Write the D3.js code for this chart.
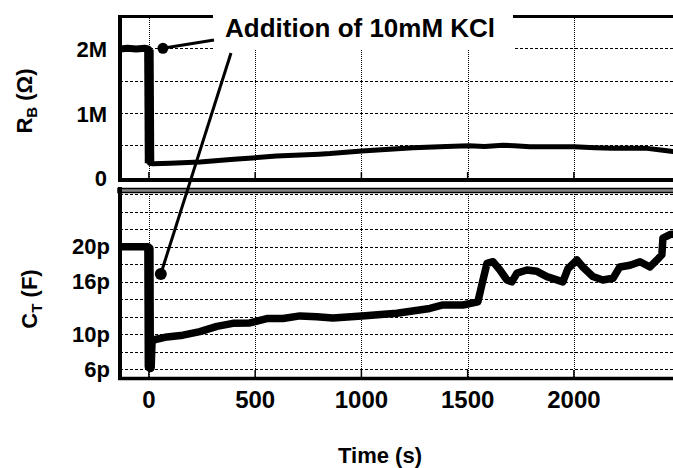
<!DOCTYPE html>
<html>
<head>
<meta charset="utf-8">
<script src="https://cdn.jsdelivr.net/npm/d3@7"></script>
<style>
  body { margin: 0; background: #fff; }
  svg { display: block; font-family: "Liberation Sans", Arial, sans-serif; font-weight: bold; }
</style>
</head>
<body>
<div id="chart"></div>
<script>
// Ticks and grid values
const timeTicks = [0, 500, 1000, 1500, 2000, 2500];
const rbTicks = [0, 1e6, 2e6];
const rbTickLabels = ["0", "1M", "2M"];
const rbGrid = [0.5e6, 1e6, 1.5e6, 2e6];
const ctTicks = [6, 10, 16, 20];
const ctTickLabels = ["6p", "10p", "16p", "20p"];
const ctGrid = [6, 8, 10, 12, 14, 16, 18, 20, 22, 24, 26];

// R_B series (time in s, resistance in ohm)
const rbTime = [-136, -100, -60, -20, -4, 0, 3, 20, 100, 240, 400, 600, 800, 852, 1002, 1243, 1400, 1506, 1580, 1666, 1720, 1793, 1900, 2000, 2100, 2184, 2344, 2419, 2466, 2520];
const rbValues = [1.99e6, 2.0e6, 1.99e6, 2.0e6, 1.99e6, 1.98e6, 0.22e6, 0.21e6, 0.22e6, 0.24e6, 0.28e6, 0.33e6, 0.36e6, 0.37e6, 0.41e6, 0.46e6, 0.48e6, 0.49e6, 0.48e6, 0.50e6, 0.49e6, 0.475e6, 0.475e6, 0.475e6, 0.46e6, 0.45e6, 0.45e6, 0.42e6, 0.40e6, 0.40e6];

// C_T series (time in s, capacitance in pF)
const ctTime = [-136, -60, -4, 0, 2, 6, 10, 30, 85, 160, 240, 320, 395, 475, 555, 631, 711, 790, 866, 1002, 1167, 1322, 1384, 1478, 1548, 1572, 1591, 1619, 1652, 1685, 1708, 1732, 1779, 1826, 1873, 1948, 1972, 2014, 2042, 2089, 2136, 2184, 2216, 2264, 2311, 2358, 2391, 2414, 2419, 2452, 2520];
const ctValues = [20.0, 20.0, 20.0, 19.8, 6.3, 6.2, 9.2, 9.4, 9.7, 9.9, 10.3, 10.9, 11.25, 11.3, 11.8, 11.8, 12.1, 12.0, 11.85, 12.1, 12.4, 12.95, 13.35, 13.35, 13.7, 16.2, 18.1, 18.3, 17.35, 16.2, 16.0, 17.0, 17.35, 17.2, 16.6, 16.0, 17.5, 18.5, 17.7, 16.6, 16.2, 16.4, 17.7, 17.9, 18.3, 17.7, 18.5, 19.1, 21.0, 21.4, 21.6];

// Annotation
const annotationText = "Addition of 10mM KCl";
const calloutTime = [66, 56];
const calloutRb = 2.0e6;
const calloutCt = 16.9;

const width = 673;
const height = 468;

const svg = d3.select("#chart").append("svg")
    .attr("width", width)
    .attr("height", height);

// Scales
const xLeft = 120;
const xScale = d3.scaleLinear().domain([-136, 2600]).range([xLeft, xLeft + 2736 * 0.2125]);
const xRight = xScale.range()[1];
const rbScale = d3.scaleLinear().domain([-0.04e6, 2.5e6]).range([180, 16]);
const ctScale = d3.scaleLinear().domain([5, 26.5]).range([378, 190]);

const rbData = rbTime.map((t, i) => ({ t, v: rbValues[i] }));
const ctData = ctTime.map((t, i) => ({ t, v: ctValues[i] }));

// Clip paths for each panel
const defs = svg.append("defs");
defs.append("clipPath").attr("id", "clipTop").append("rect")
    .attr("x", xLeft).attr("y", 16).attr("width", xRight - xLeft).attr("height", 164);
defs.append("clipPath").attr("id", "clipBottom").append("rect")
    .attr("x", xLeft).attr("y", 190).attr("width", xRight - xLeft).attr("height", 188);

// Grid lines
const grid = svg.append("g")
    .attr("stroke", "#000")
    .attr("stroke-width", 1)
    .attr("shape-rendering", "crispEdges");

grid.selectAll("line.rb-grid")
    .data(rbGrid)
    .join("line")
    .attr("class", "rb-grid")
    .attr("x1", xLeft).attr("x2", xRight)
    .attr("y1", d => Math.round(rbScale(d)) + 0.5).attr("y2", d => Math.round(rbScale(d)) + 0.5)
    .attr("stroke-dasharray", "3,2");

grid.selectAll("line.ct-grid")
    .data(ctGrid)
    .join("line")
    .attr("class", "ct-grid")
    .attr("x1", xLeft).attr("x2", xRight)
    .attr("y1", d => Math.round(ctScale(d)) + 0.5).attr("y2", d => Math.round(ctScale(d)) + 0.5)
    .attr("stroke-dasharray", "3,2");

grid.selectAll("line.vgrid-top")
    .data(timeTicks)
    .join("line")
    .attr("class", "vgrid-top")
    .attr("x1", d => Math.round(xScale(d)) + 0.5).attr("x2", d => Math.round(xScale(d)) + 0.5)
    .attr("y1", 16).attr("y2", 180)
    .attr("stroke-dasharray", "1,1");

grid.selectAll("line.vgrid-bottom")
    .data(timeTicks)
    .join("line")
    .attr("class", "vgrid-bottom")
    .attr("x1", d => Math.round(xScale(d)) + 0.5).attr("x2", d => Math.round(xScale(d)) + 0.5)
    .attr("y1", 190).attr("y2", 378)
    .attr("stroke-dasharray", "1,1");

// Frames
const frame = svg.append("g").attr("stroke", "#000");
frame.append("line").attr("x1", xLeft - 2).attr("x2", xRight).attr("y1", 16.5).attr("y2", 16.5).attr("stroke-width", 3);
frame.append("line").attr("x1", xLeft - 2).attr("x2", xRight).attr("y1", 180).attr("y2", 180).attr("stroke-width", 4);
frame.append("line").attr("x1", xLeft).attr("x2", xLeft).attr("y1", 15).attr("y2", 182).attr("stroke-width", 4);
frame.append("rect").attr("x", xLeft - 2).attr("y", 188.5).attr("width", xRight - xLeft + 2).attr("height", 4)
    .attr("fill", "#888").attr("stroke-width", 1.5);
frame.append("line").attr("x1", xLeft).attr("x2", xLeft).attr("y1", 187).attr("y2", 380).attr("stroke-width", 4);
frame.append("line").attr("x1", xLeft - 2).attr("x2", xRight).attr("y1", 378.5).attr("y2", 378.5).attr("stroke-width", 3.5);

// Small inward ticks on the bottom of each panel
frame.selectAll("line.tick-top")
    .data(timeTicks)
    .join("line")
    .attr("class", "tick-top")
    .attr("x1", d => xScale(d)).attr("x2", d => xScale(d))
    .attr("y1", 172).attr("y2", 179)
    .attr("stroke-width", 1.5);
frame.selectAll("line.tick-bottom")
    .data(timeTicks)
    .join("line")
    .attr("class", "tick-bottom")
    .attr("x1", d => xScale(d)).attr("x2", d => xScale(d))
    .attr("y1", 370).attr("y2", 377)
    .attr("stroke-width", 1.5);

// White box behind the annotation title
svg.append("rect")
    .attr("x", 213).attr("y", 8)
    .attr("width", 300).attr("height", 42)
    .attr("fill", "#fff");

// Data lines
const rbLine = d3.line().x(d => xScale(d.t)).y(d => rbScale(d.v));
const ctLine = d3.line().x(d => xScale(d.t)).y(d => ctScale(d.v));

const topGroup = svg.append("g").attr("clip-path", "url(#clipTop)");
topGroup.append("path")
    .datum(rbData)
    .attr("d", rbLine)
    .attr("fill", "none").attr("stroke", "#000").attr("stroke-width", 5)
    .attr("stroke-linejoin", "round").attr("stroke-linecap", "round");
// the noisy part before/at the addition looks thicker
topGroup.append("path")
    .datum(rbData.filter(d => d.t <= 3))
    .attr("d", rbLine)
    .attr("fill", "none").attr("stroke", "#000").attr("stroke-width", 7)
    .attr("stroke-linejoin", "round");
topGroup.append("path")
    .datum(rbData.filter(d => d.t >= 0 && d.t <= 3))
    .attr("d", rbLine)
    .attr("fill", "none").attr("stroke", "#000").attr("stroke-width", 9.5);

const bottomGroup = svg.append("g").attr("clip-path", "url(#clipBottom)");
bottomGroup.append("path")
    .datum(ctData)
    .attr("d", ctLine)
    .attr("fill", "none").attr("stroke", "#000").attr("stroke-width", 7.5)
    .attr("stroke-linejoin", "round").attr("stroke-linecap", "round");
bottomGroup.append("path")
    .datum(ctData.filter(d => d.t >= 0 && d.t <= 10))
    .attr("d", ctLine)
    .attr("fill", "none").attr("stroke", "#000").attr("stroke-width", 9.5)
    .attr("stroke-linejoin", "round").attr("stroke-linecap", "round");

// Y tick labels
svg.selectAll("text.rb-label")
    .data(rbTicks)
    .join("text")
    .attr("class", "rb-label")
    .attr("x", 107)
    .attr("y", d => rbScale(d))
    .attr("dy", "0.4em")
    .attr("text-anchor", "end")
    .attr("font-size", "22px")
    .text((d, i) => rbTickLabels[i]);

svg.selectAll("text.ct-label")
    .data(ctTicks)
    .join("text")
    .attr("class", "ct-label")
    .attr("x", 110)
    .attr("y", d => ctScale(d))
    .attr("dy", "0.33em")
    .attr("text-anchor", "end")
    .attr("font-size", "22px")
    .text((d, i) => ctTickLabels[i]);

// X tick labels
svg.selectAll("text.x-label")
    .data(timeTicks.filter(d => xScale(d) < width))
    .join("text")
    .attr("class", "x-label")
    .attr("x", d => xScale(d))
    .attr("y", 408)
    .attr("text-anchor", "middle")
    .attr("font-size", "24px")
    .text(d => d);

// Axis titles
svg.append("text")
    .attr("x", 380).attr("y", 463)
    .attr("text-anchor", "middle")
    .attr("font-size", "22px")
    .text("Time (s)");

const rbTitle = svg.append("text")
    .attr("transform", "translate(32,101) rotate(-90)")
    .attr("text-anchor", "middle")
    .attr("font-size", "22px");
rbTitle.append("tspan").text("R");
rbTitle.append("tspan").attr("font-size", "15px").attr("dy", 5).text("B");
rbTitle.append("tspan").attr("dy", -5).text(" (Ω)");

const ctTitle = svg.append("text")
    .attr("transform", "translate(37,299) rotate(-90)")
    .attr("text-anchor", "middle")
    .attr("font-size", "22px");
ctTitle.append("tspan").text("C");
ctTitle.append("tspan").attr("font-size", "15px").attr("dy", 5).text("T");
ctTitle.append("tspan").attr("dy", -5).text(" (F)");

// Annotation text and callouts
svg.append("text")
    .attr("x", 225).attr("y", 37)
    .attr("font-size", "26px")
    .text(annotationText);

const dot1 = [xScale(calloutTime[0]), rbScale(calloutRb)];
const dot2 = [xScale(calloutTime[1]), ctScale(calloutCt)];

svg.append("line")
    .attr("x1", dot1[0]).attr("y1", dot1[1])
    .attr("x2", 214).attr("y2", 40)
    .attr("stroke", "#000").attr("stroke-width", 3);
svg.append("line")
    .attr("x1", dot2[0]).attr("y1", dot2[1])
    .attr("x2", 231).attr("y2", 53)
    .attr("stroke", "#000").attr("stroke-width", 3);
svg.append("circle").attr("cx", dot1[0]).attr("cy", dot1[1]).attr("r", 5.5).attr("fill", "#000");
svg.append("circle").attr("cx", dot2[0]).attr("cy", dot2[1]).attr("r", 6).attr("fill", "#000");
</script>
</body>
</html>
